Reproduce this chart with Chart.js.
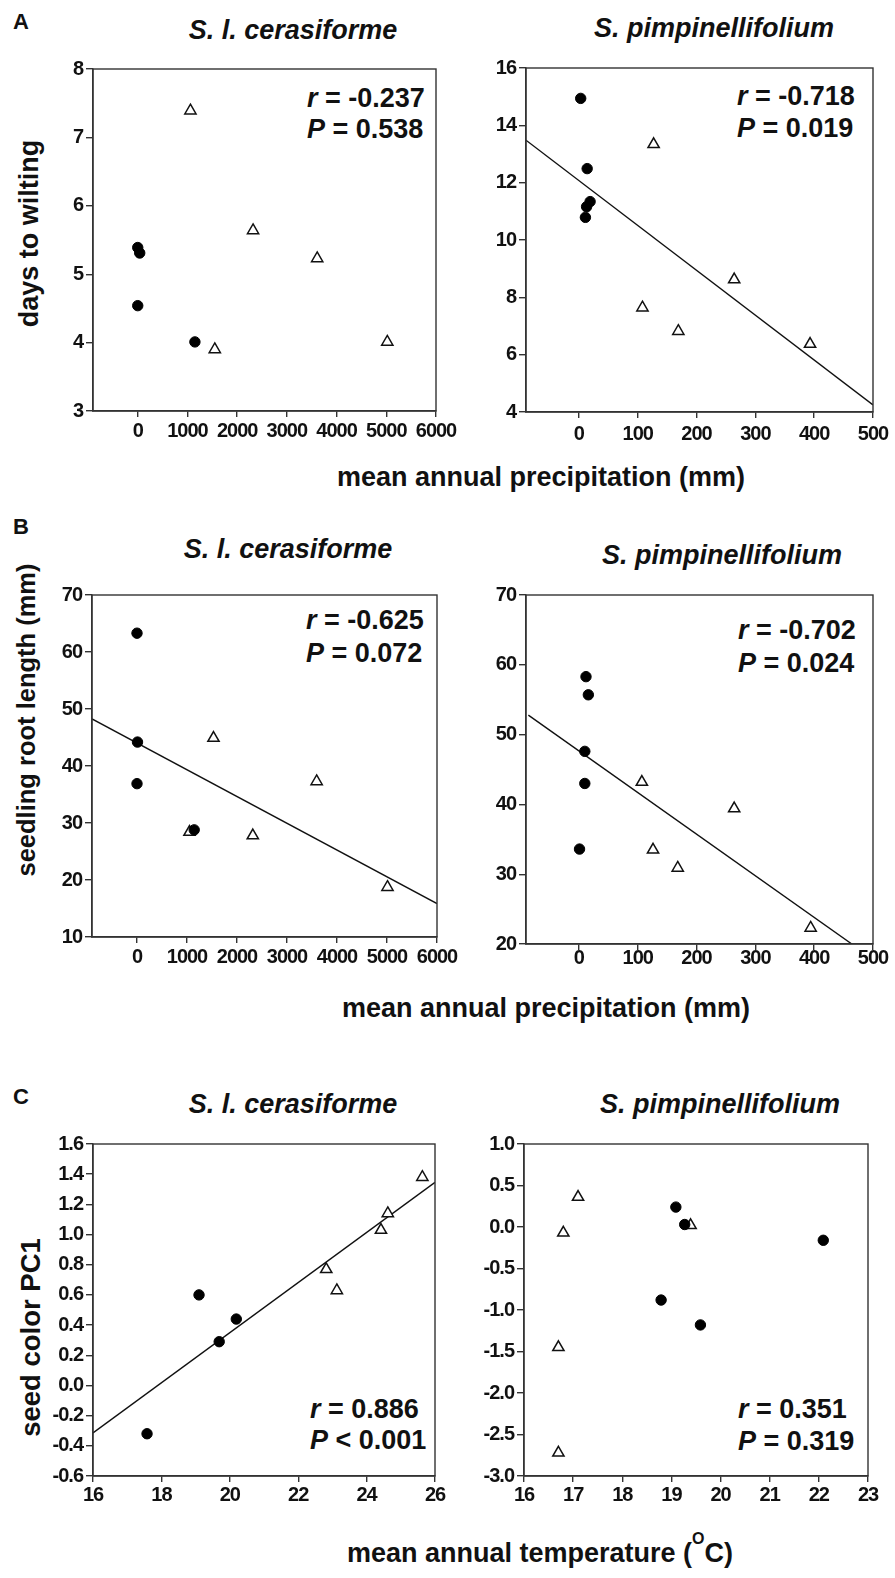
<!DOCTYPE html>
<html><head><meta charset="utf-8">
<script src="https://cdn.jsdelivr.net/npm/chart.js@4.4.1/dist/chart.umd.min.js"></script>
<style>
body{margin:0;background:#fff;}
#page{position:relative;width:895px;height:1578px;overflow:hidden;font-family:"Liberation Sans",Arial,Helvetica,sans-serif;font-weight:bold;color:#111;}
.t{position:absolute;white-space:nowrap;line-height:1;}
.c{text-align:center;width:400px;}
.it{font-style:italic;}
.rot{position:absolute;white-space:nowrap;width:400px;text-align:center;transform:rotate(-90deg);}
canvas{position:absolute;}
sup{font-size:16px;line-height:0;vertical-align:18px;}
</style></head><body><div id="page">
<div class="t" style="left:13px;top:11px;font-size:22px">A</div>
<div class="t" style="left:13px;top:516px;font-size:22px">B</div>
<div class="t" style="left:13px;top:1086px;font-size:22px">C</div>

<div class="t c it" style="left:93px;top:17px;font-size:27px">S. l. cerasiforme</div>
<div class="t c it" style="left:514px;top:15px;font-size:27px">S. pimpinellifolium</div>
<div class="t c it" style="left:88px;top:536px;font-size:27px">S. l. cerasiforme</div>
<div class="t c it" style="left:522px;top:542px;font-size:27px">S. pimpinellifolium</div>
<div class="t c it" style="left:93px;top:1091px;font-size:27px">S. l. cerasiforme</div>
<div class="t c it" style="left:520px;top:1091px;font-size:27px">S. pimpinellifolium</div>

<div class="rot" style="left:-171px;top:220px;height:27px;line-height:27px;font-size:27px">days to wilting</div>
<div class="rot" style="left:-174px;top:707px;height:26px;line-height:26px;font-size:25.5px">seedling root length (mm)</div>
<div class="rot" style="left:-170px;top:1324px;height:27px;line-height:27px;font-size:27.5px">seed color PC1</div>

<div class="t c" style="left:337px;top:464px;font-size:27px">mean annual precipitation (mm)</div>
<div class="t c" style="left:342px;top:995px;font-size:27px">mean annual precipitation (mm)</div>
<div class="t c" style="left:340px;top:1539px;font-size:27px">mean annual temperature (<sup>O</sup>C)</div>

<div class="t" style="left:307px;top:85px;font-size:27px"><span class="it">r</span> = -0.237</div>
<div class="t" style="left:307px;top:116px;font-size:27px"><span class="it">P</span> = 0.538</div>
<div class="t" style="left:737px;top:83px;font-size:27px"><span class="it">r</span> = -0.718</div>
<div class="t" style="left:737px;top:115px;font-size:27px"><span class="it">P</span> = 0.019</div>
<div class="t" style="left:306px;top:607px;font-size:27px"><span class="it">r</span> = -0.625</div>
<div class="t" style="left:306px;top:640px;font-size:27px"><span class="it">P</span> = 0.072</div>
<div class="t" style="left:738px;top:617px;font-size:27px"><span class="it">r</span> = -0.702</div>
<div class="t" style="left:738px;top:650px;font-size:27px"><span class="it">P</span> = 0.024</div>
<div class="t" style="left:310px;top:1396px;font-size:27px"><span class="it">r</span> = 0.886</div>
<div class="t" style="left:310px;top:1427px;font-size:27px"><span class="it">P</span> &lt; 0.001</div>
<div class="t" style="left:738px;top:1396px;font-size:27px"><span class="it">r</span> = 0.351</div>
<div class="t" style="left:738px;top:1428px;font-size:27px"><span class="it">P</span> = 0.319</div>
</div>
<script>
// ---- tick values ----
const xTicksCerPrecip = [0, 1000, 2000, 3000, 4000, 5000, 6000];
const xTicksPimPrecip = [0, 100, 200, 300, 400, 500];
const xTicksCerTemp = [16, 18, 20, 22, 24, 26];
const xTicksPimTemp = [16, 17, 18, 19, 20, 21, 22, 23];
const yTicksWiltCer = [3, 4, 5, 6, 7, 8];
const yTicksWiltPim = [4, 6, 8, 10, 12, 14, 16];
const yTicksRootCer = [10, 20, 30, 40, 50, 60, 70];
const yTicksRootPim = [20, 30, 40, 50, 60, 70];
const yTicksColorCer = [-0.6, -0.4, -0.2, 0.0, 0.2, 0.4, 0.6, 0.8, 1.0, 1.2, 1.4, 1.6];
const yTicksColorPim = [-3.0, -2.5, -2.0, -1.5, -1.0, -0.5, 0.0, 0.5, 1.0];

// ---- A: days to wilting ----
const wiltCerCircX = [0, 40, 0, 1150];
const wiltCerCircY = [5.39, 5.31, 4.54, 4.01];
const wiltCerTriX = [1060, 1550, 2320, 3610, 5020];
const wiltCerTriY = [7.39, 3.90, 5.64, 5.23, 4.01];

const wiltPimCircX = [3, 14, 19, 13, 11];
const wiltPimCircY = [14.94, 12.49, 11.34, 11.16, 10.79];
const wiltPimTriX = [127, 108, 169, 264, 393];
const wiltPimTriY = [13.34, 7.64, 6.82, 8.62, 6.37];
const wiltPimFitX = [-90, 500];
const wiltPimFitY = [13.48, 4.25];

// ---- B: seedling root length ----
const rootCerCircX = [0, 10, 0, 1144];
const rootCerCircY = [63.3, 44.2, 36.9, 28.8];
const rootCerTriX = [1050, 1530, 2316, 3593, 5010];
const rootCerTriY = [28.4, 44.9, 27.8, 37.3, 18.75];
const rootCerFitX = [-900, 6000];
const rootCerFitY = [48.27, 15.86];

const rootPimCircX = [12, 16, 10, 10, 1];
const rootPimCircY = [58.3, 55.7, 47.6, 43.0, 33.6];
const rootPimTriX = [107, 126, 168, 264, 394];
const rootPimTriY = [43.2, 33.5, 30.9, 39.4, 22.3];
const rootPimFitX = [-86, 464];
const rootPimFitY = [52.8, 20.0];

// ---- C: seed color PC1 ----
const colorCerCircX = [17.58, 19.10, 19.69, 20.19];
const colorCerCircY = [-0.32, 0.60, 0.29, 0.44];
const colorCerTriX = [22.82, 23.13, 24.42, 24.62, 25.63];
const colorCerTriY = [0.77, 0.63, 1.03, 1.14, 1.38];
const colorCerFitX = [16, 26];
const colorCerFitY = [-0.315, 1.346];

const colorPimCircX = [19.09, 19.27, 22.09, 18.79, 19.59];
const colorPimCircY = [0.24, 0.03, -0.16, -0.88, -1.18];
const colorPimTriX = [17.1, 16.8, 19.39, 16.7, 16.7];
const colorPimTriY = [0.36, -0.07, 0.02, -1.45, -2.72];

const FONT = '"Liberation Sans", Arial, Helvetica, sans-serif';
const page = document.getElementById('page');

const panels = [
  {rect:[93,68,436,411], xMin:-900, xMax:6000, xTicks:xTicksCerPrecip, xDec:0, yMin:3, yMax:8, yTicks:yTicksWiltCer, yDec:0,
   cx:wiltCerCircX, cy:wiltCerCircY, tx:wiltCerTriX, ty:wiltCerTriY, xPad:2.7},
  {rect:[526,67,873,412], xMin:-90, xMax:500, xTicks:xTicksPimPrecip, xDec:0, yMin:4, yMax:16, yTicks:yTicksWiltPim, yDec:0,
   cx:wiltPimCircX, cy:wiltPimCircY, tx:wiltPimTriX, ty:wiltPimTriY, fx:wiltPimFitX, fy:wiltPimFitY, xPad:4.5},
  {rect:[92,594,437,937], xMin:-900, xMax:6000, xTicks:xTicksCerPrecip, xDec:0, yMin:10, yMax:70, yTicks:yTicksRootCer, yDec:0,
   cx:rootCerCircX, cy:rootCerCircY, tx:rootCerTriX, ty:rootCerTriY, fx:rootCerFitX, fy:rootCerFitY, xPad:2.5},
  {rect:[526,594,873,944], xMin:-90, xMax:500, xTicks:xTicksPimPrecip, xDec:0, yMin:20, yMax:70, yTicks:yTicksRootPim, yDec:0,
   cx:rootPimCircX, cy:rootPimCircY, tx:rootPimTriX, ty:rootPimTriY, fx:rootPimFitX, fy:rootPimFitY, xPad:-4},
  {rect:[93,1143,435,1476], xMin:16, xMax:26, xTicks:xTicksCerTemp, xDec:0, yMin:-0.6, yMax:1.6, yTicks:yTicksColorCer, yDec:1,
   cx:colorCerCircX, cy:colorCerCircY, tx:colorCerTriX, ty:colorCerTriY, fx:colorCerFitX, fy:colorCerFitY, xPad:1.5},
  {rect:[524,1143,868,1476], xMin:16, xMax:23, xTicks:xTicksPimTemp, xDec:0, yMin:-3, yMax:1, yTicks:yTicksColorPim, yDec:1,
   cx:colorPimCircX, cy:colorPimCircY, tx:colorPimTriX, ty:colorPimTriY, xPad:1.5}
];

const boxPlugin = {
  id: 'box',
  beforeDraw(chart) {
    try { chart.ctx.letterSpacing = '-1px'; } catch (e) {}
  },
  afterDatasetsDraw(chart) {
    const {ctx, chartArea: a} = chart;
    ctx.save();
    ctx.strokeStyle = '#333';
    ctx.lineWidth = 1.4;
    ctx.strokeRect(a.left, a.top, a.right - a.left, a.bottom - a.top);
    ctx.restore();
  },
  afterDraw(chart) {
    try { chart.ctx.letterSpacing = '0px'; } catch (e) {}
  }
};

function pts(xs, ys) { return xs.map((x, i) => ({x: x, y: ys[i]})); }

panels.forEach(p => {
  const [L, T, R, B] = p.rect;
  const W = 64, H = 44, padT = 14, padR = 30;
  const cw = (R - L) + W + padR, ch = (B - T) + padT + H;
  const cv = document.createElement('canvas');
  cv.width = cw; cv.height = ch;
  cv.style.width = cw + 'px'; cv.style.height = ch + 'px';
  cv.style.left = (L - W) + 'px'; cv.style.top = (T - padT) + 'px';
  page.appendChild(cv);

  const datasets = [
    {data: pts(p.cx, p.cy), pointStyle: 'circle', pointRadius: 5.2, backgroundColor: '#000', borderColor: '#000', borderWidth: 1, showLine: false},
    {data: pts(p.tx, p.ty), pointStyle: 'triangle', pointRadius: 6.5, backgroundColor: '#fff', borderColor: '#111', borderWidth: 1.5, showLine: false}
  ];
  if (p.fx) datasets.push({data: pts(p.fx, p.fy), showLine: true, pointRadius: 0, borderColor: '#111', borderWidth: 1.4, fill: false});

  const tickFont = {family: FONT, size: 20, weight: 'bold'};
  new Chart(cv, {
    type: 'scatter',
    data: {datasets: datasets},
    options: {
      responsive: false, animation: false, devicePixelRatio: 1,
      layout: {padding: {top: padT, right: padR, left: 0, bottom: 0}},
      plugins: {legend: {display: false}, tooltip: {enabled: false}},
      scales: {
        x: {
          type: 'linear', position: 'bottom', bounds: 'data', min: p.xMin, max: p.xMax,
          afterBuildTicks: s => { s.ticks = p.xTicks.map(v => ({value: v})); },
          afterFit: s => { s.height = H; },
          grid: {display: true, drawOnChartArea: false, drawTicks: true, tickLength: 6, color: '#333', lineWidth: 1.4},
          border: {display: true, color: '#333', width: 1.4},
          ticks: {autoSkip: false, maxRotation: 0, padding: p.xPad, color: '#111', font: tickFont,
                  callback: v => Number(v).toFixed(p.xDec)}
        },
        y: {
          type: 'linear', position: 'left', bounds: 'data', min: p.yMin, max: p.yMax,
          afterBuildTicks: s => { s.ticks = p.yTicks.map(v => ({value: v})); },
          afterFit: s => { s.width = W; },
          grid: {display: true, drawOnChartArea: false, drawTicks: true, tickLength: 7, color: '#333', lineWidth: 1.4},
          border: {display: true, color: '#333', width: 1.4},
          ticks: {autoSkip: false, padding: 3, color: '#111', font: tickFont,
                  callback: v => Number(v).toFixed(p.yDec)}
        }
      }
    },
    plugins: [boxPlugin]
  });
});
</script>
</body></html>
